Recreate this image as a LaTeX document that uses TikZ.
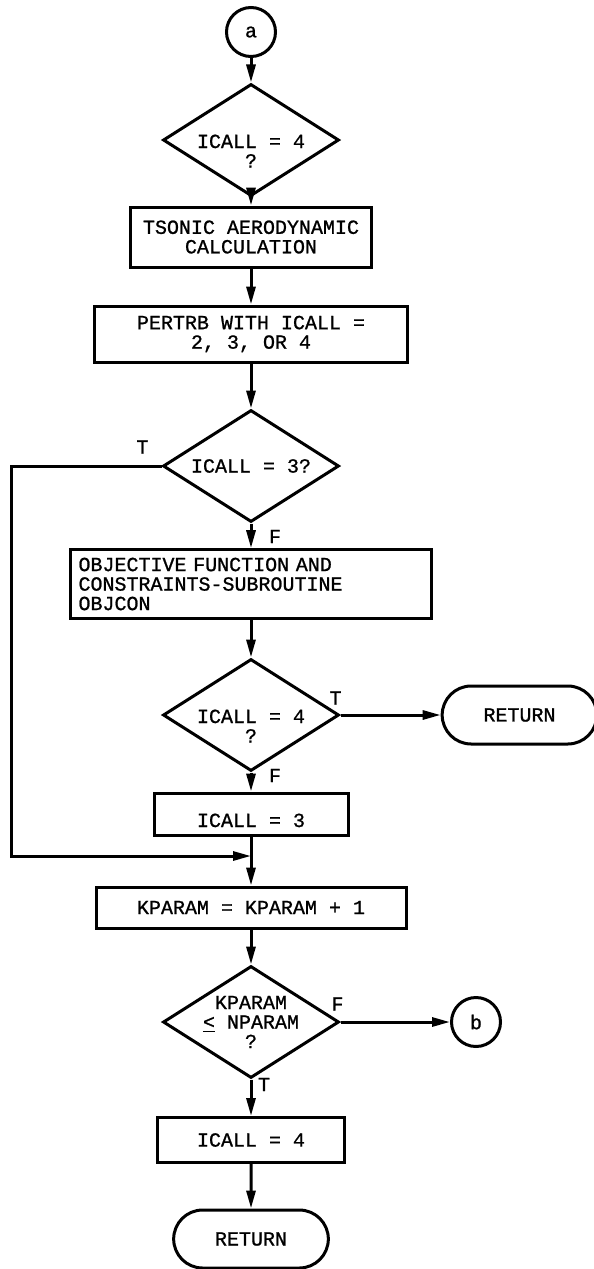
\documentclass[tikz,border=0pt]{standalone}
\usepackage{fontspec}
\setmonofont[FakeBold=1]{Liberation Mono}
\usetikzlibrary{positioning, arrows.meta, shapes.geometric, shapes.misc}
\tikzset{
    >={Triangle[length=9pt, width=4.5pt]}, % long filled heads
    every node/.style={font=\ttfamily\fontsize{10}{9.75}\selectfont},
    box/.style={draw, rectangle, align=center, inner sep=4pt}, % process boxes
    test/.style={draw, diamond, aspect=1.6, inner sep=-2pt, align=center,
        minimum width=88pt, minimum height=56pt}, % decisions
    link/.style={draw, circle, inner sep=0pt, minimum size=24.5pt}, % connectors
    stop/.style={draw, rounded rectangle, minimum width=84pt, minimum height=29pt},
    tf/.style={inner sep=0pt}, % T / F marks
}

\begin{document}
\begin{tikzpicture}[
    line width=1.5pt, on grid
]
    \useasboundingbox (0,0) rectangle (297pt,-634.5pt);

    % --- Nodes ---
    \node[link] (a) at (125.5pt,-16pt) {a};
    \node[test] (t1) [below=54pt of a] {\rule{0pt}{8pt}\\ICALL = 4\\?};
    \node[box, minimum width=120.5pt, minimum height=30pt] (b1) [below=48.5pt of t1]
        {TSONIC AERODYNAMIC\\CALCULATION};
    \node[box, minimum width=156.5pt, minimum height=28pt] (b2) [below=48.5pt of b1]
        {PERTRB WITH ICALL =\\2, 3, OR 4};
    \node[test] (t2) [below=66pt of b2] {ICALL = 3?};
    \node[box, text width=172.5pt, align=left, minimum height=34pt] (b3) [below=59pt of t2]
        {OBJECTIVE FUNCTION AND\\CONSTRAINTS-SUBROUTINE\\OBJCON};
    \node[test] (t3) [below=65.5pt of b3] {\rule{0pt}{8pt}\\ICALL = 4\\?};
    \node[stop] (r1) [right=134.25pt of t3] {RETURN};
    \node[box, minimum width=97pt, minimum height=20.5pt, text height=13pt, text depth=0pt]
        (b4) [below=49.5pt of t3] {ICALL = 3};
    \coordinate[below=21pt of b4] (join);
    \node[box, minimum width=155pt, minimum height=20.5pt] (b5) [below=46.75pt of b4]
        {KPARAM = KPARAM + 1};
    \node[test] (t4) [below=57.25pt of b5] {KPARAM\\\underline{<} NPARAM\\?};
    \node[link] (b) [right=112.5pt of t4] {b};
    \node[box, minimum width=93.5pt, minimum height=22.5pt] (b6) [below=59pt of t4] {ICALL = 4};
    \node[stop] (r2) [below=49.5pt of b6] {RETURN};

    % --- Flow ---
    \draw[->] (a) -- (t1);
    \draw[->] (t1) -- (b1);
    \draw[->] (b1) -- (b2);
    \draw[->] (b2) -- (t2);
    \draw[->] (t2) -- node[tf, pos=0, xshift=12pt, yshift=-6.5pt] {F} (b3);
    \draw[->] (t2.west) -- node[tf, pos=0, xshift=-9.5pt, yshift=9.5pt] {T} ++(-75pt,0) |- (join);
    \draw[->] (b3) -- (t3);
    \draw[->] (t3) -- node[tf, pos=0, xshift=-2.5pt, yshift=8.5pt] {T} (r1);
    \draw[->] (t3) -- node[tf, pos=0, xshift=12pt, yshift=-1.5pt] {F} (b4);
    \draw (b4) -- (join);
    \draw[->] (join) -- (b5);
    \draw[->] (b5) -- (t4);
    \draw[->] (t4) -- node[tf, pos=0, xshift=-1.5pt, yshift=9pt] {F} (b);
    \draw[->] (t4) -- node[tf, pos=0, xshift=6.5pt, yshift=-2.5pt] {T} (b6);
    \draw[->] (b6) -- (r2);

\end{tikzpicture}
\end{document}
